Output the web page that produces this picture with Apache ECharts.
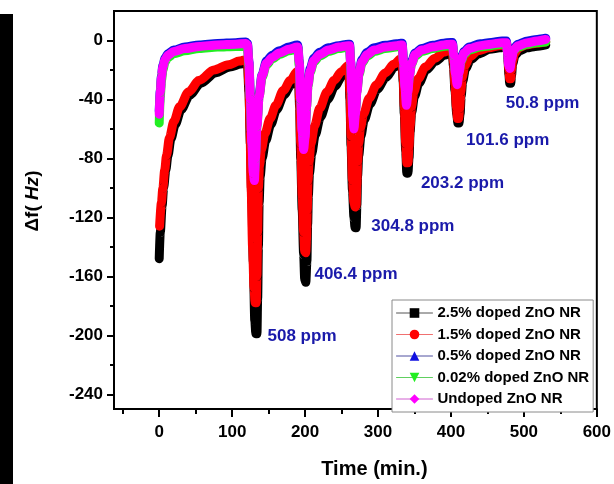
<!DOCTYPE html>
<html><head><meta charset="utf-8">
<script src="https://cdn.jsdelivr.net/npm/echarts@6/dist/echarts.min.js"></script>
<style>html,body{margin:0;padding:0;background:#fff}#c{width:614px;height:484px}</style>
</head><body><div id="c"></div>
<script>
// ---------- data (time in min, Δf in Hz) ----------
const seriesNames = ['2.5% doped ZnO NR','1.5% doped ZnO NR','0.5% doped ZnO NR','0.02% doped ZnO NR','Undoped ZnO NR'];

const black25 = [
 [0,-148],[1.5,-130],[4,-112],[6,-100],[9,-88],[12,-78],[16,-67],[22,-57],[30,-47],[42,-37],[57,-29],[77,-22],[97,-18],[112,-16],[120,-15],
 [121,-15],[123,-35],[125,-70],[127,-110],[129,-150],[131,-190],[132.5,-199],[134,-199],[135,-175],[136,-140],[137,-110],[138.5,-92],[141,-80],[146,-68],[153,-57],[161,-47],[171,-37],[181,-30],[189,-24],
 [191,-24],[192.5,-45],[194,-80],[196,-115],[198,-145],[199.5,-162],[201,-164],[202.5,-150],[203.5,-125],[204.5,-105],[206,-90],[209,-77],[214,-64],[221,-52],[231,-40],[241,-31],[251,-24],[259,-20],
 [260,-19],[261.5,-40],[263,-72],[265,-102],[267,-120],[268.5,-127],[270,-127],[271,-112],[272,-92],[273.5,-78],[276.5,-65],[281,-54],[289,-43],[299,-33],[311,-25],[323,-18],[332,-14],
 [333,-14],[334.5,-28],[336,-50],[338,-75],[339.5,-90],[341,-90],[342.5,-80],[344,-62],[346,-49],[350,-38],[356,-29],[366,-20],[379,-14],[391,-10],[401,-8],
 [402,-8],[403.5,-18],[405.5,-34],[408,-50],[409.5,-56],[411,-56],[412.5,-50],[414,-38],[416,-28],[420,-19],[427,-13],[438,-9],[453,-6],[467,-5],[476,-4],
 [477,-4],[478,-12],[479.5,-23],[480.5,-29],[482,-29],[483,-24],[484.5,-16],[488,-10],[494,-7],[504,-5],[516,-4],[530,-3]
];
const red15 = [
 [0.5,-126],[3,-110],[5,-100],[7.5,-88],[10,-78],[14,-66],[20,-55],[28,-45],[40,-35],[55,-27],[75,-20],[95,-16.5],[110,-14],[119,-13],
 [121,-13],[123,-30],[124.5,-60],[126,-100],[128,-140],[130,-168],[131.5,-178],[133,-178],[134,-160],[135,-130],[136,-100],[137.5,-85],[140,-74],[145,-63],[152,-53],[160,-44],[170,-34],[180,-27],[189,-21],
 [191,-22],[192.5,-40],[194,-70],[196,-105],[198,-130],[199.5,-143],[201,-144],[202,-135],[203,-115],[204,-95],[205.5,-82],[208,-70],[213,-58],[220,-46],[230,-35],[240,-27],[250,-21],[259,-17],
 [260,-17],[261.5,-35],[263,-65],[265,-95],[267,-110],[268.5,-113],[270,-112],[271,-98],[272,-82],[273.5,-70],[276,-59],[280,-50],[288,-39],[298,-30],[310,-22],[322,-16],[332,-12],
 [333,-12],[334.5,-25],[336,-45],[338,-70],[339.5,-83],[341,-83],[342.5,-72],[344,-58],[346,-45],[349,-35],[355,-26],[365,-18],[378,-12],[390,-8],[401,-6],
 [402,-6],[403.5,-15],[405.5,-30],[407.5,-45],[409,-53],[410.5,-53],[412,-46],[413.5,-35],[415.5,-25],[419,-17],[426,-11],[437,-7],[452,-5],[466,-3.5],[476,-3],
 [477,-3],[478,-10],[479.5,-20],[480.5,-26],[482,-26],[483,-20],[484.5,-14],[487,-9],[493,-5],[503,-3],[515,-2],[530,-1]
];
const blue05 = [
 [0,-48],[1.5,-34],[3,-24],[5,-17],[8,-12],[12,-9],[20,-6.5],[35,-4.5],[55,-3],[80,-2],[105,-1.5],[119,-1],
 [121,-2],[123,-14],[125,-38],[127,-66],[129,-86],[130.5,-90],[132,-76],[134,-55],[137,-36],[141,-23],[147,-14],[155,-10],[165,-7],[178,-4.5],[189,-3],
 [190,-3],[192,-14],[194,-38],[196,-58],[198,-70],[200,-62],[202,-42],[204,-28],[207,-19],[212,-12],[220,-8],[232,-5],[246,-3.5],[259,-2.5],
 [261,-2.5],[262.5,-14],[264,-32],[265.5,-48],[267,-56],[269,-47],[271,-32],[274,-21],[278,-13],[285,-8],[295,-5],[310,-3.3],[325,-2.3],[331,-1.8],
 [333,-1.8],[335,-13],[337,-29],[339,-40],[341,-32],[343,-22],[346,-14],[351,-8.5],[360,-5.5],[375,-3.3],[390,-1.8],[400,-1.3],
 [402,-1.3],[404,-9],[406,-20],[408.5,-27],[411,-20],[414,-12],[418,-7.5],[425,-4.5],[440,-2.3],[455,-1.3],[470,-0.3],[476,-0.3],
 [477.5,-7],[479,-15],[481,-17],[483,-11],[486,-5.5],[492,-2.5],[505,-0.3],[518,0.7],[530,1.5]
];
const green002 = [
 [0,-56],[1.5,-38],[3,-27.5],[5,-20],[8,-14.5],[12,-11.5],[20,-9],[35,-7],[55,-5.5],[80,-4.5],[105,-4],[119,-4],
 [121,-5],[123,-17],[125,-40],[127,-68],[129,-86],[130.5,-90],[132,-78],[134,-58],[137,-38],[141,-25],[147,-16.5],[155,-12.5],[165,-9.5],[178,-7],[189,-5.5],
 [190,-5.5],[192,-17],[194,-40],[196,-60],[198,-70],[200,-63],[202,-45],[204,-31],[207,-21.5],[212,-14.5],[220,-10.5],[232,-7.5],[246,-5.5],[259,-4.5],
 [261,-4.5],[262.5,-16],[264,-35],[265.5,-50],[267,-56],[269,-48],[271,-35],[274,-23],[278,-15.5],[285,-10.5],[295,-7.5],[310,-5.5],[325,-4.5],[331,-4],
 [333,-4],[335,-15],[337,-30],[339,-41],[341,-33],[343,-24],[346,-16],[351,-10.5],[360,-7.5],[375,-5.5],[390,-4],[400,-3.5],
 [402,-3.5],[404,-11],[406,-21],[408.5,-27],[411,-21],[414,-14],[418,-9.5],[425,-6.5],[440,-4.5],[455,-3.5],[470,-2.5],[476,-2.5],
 [477.5,-8],[479,-15],[481,-17],[483,-11],[486,-7],[492,-4.5],[505,-2.5],[518,-1.5],[530,-1]
];
const undoped = [
 [0,-50],[1.5,-35],[3,-25],[5,-18],[8,-13],[12,-10],[20,-7.5],[35,-5.5],[55,-4],[80,-3],[105,-2.5],[119,-2],
 [121,-3],[123,-15],[125,-40],[127,-70],[129,-90],[130.5,-95],[132,-80],[134,-58],[137,-38],[141,-24],[147,-15.5],[155,-11.5],[165,-8.5],[178,-6],[189,-4.5],
 [190,-4.5],[192,-15],[194,-40],[196,-62],[198,-74],[200,-66],[202,-45],[204,-30],[207,-20.5],[212,-13.5],[220,-9.5],[232,-6.5],[246,-4.5],[259,-3.5],
 [261,-3.5],[262.5,-15],[264,-35],[265.5,-52],[267,-60],[269,-50],[271,-35],[274,-22],[278,-14.5],[285,-9.5],[295,-6.5],[310,-4.5],[325,-3.5],[331,-3],
 [333,-3],[335,-15],[337,-32],[339,-44],[341,-35],[343,-24],[346,-15.5],[351,-9.5],[360,-6.5],[375,-4.5],[390,-3],[400,-2.5],
 [402,-2.5],[404,-10],[406,-22],[408.5,-30],[411,-22],[414,-13.5],[418,-8.5],[425,-5.5],[440,-3.5],[455,-2.5],[470,-1.5],[476,-1.5],
 [477.5,-8],[479,-17],[481,-19],[483,-12.5],[486,-6.5],[492,-3.5],[505,-1.5],[518,-0.3],[530,0.7]
];

const annText = ['508 ppm','406.4 ppm','304.8 ppm','203.2 ppm','101.6 ppm','50.8 ppm'];
const annTime = [148.5, 212.8, 290.8, 358.8, 420.8, 475.1];
const annValue = [-200.7, -158.6, -126.3, -96.7, -67.8, -42.8];

const xMajorTicks = [0,100,200,300,400,500,600];
const xMinorTicks = [-50,50,150,250,350,450,550];
const yMajorTicks = [0,-40,-80,-120,-160,-200,-240];
const yMinorTicks = [-20,-60,-100,-140,-180,-220];

// ---------- styling ----------
const colors = ['#000000','#ff0000','#1010e0','#22ee22','#ff00ff'];
const legendLine = ['#555555','#f07070','#5050a0','#60d060','#d060d0'];
const symbols = ['rect','circle','triangle','triangle','diamond'];
const rotates = [0,0,0,180,0];
const FONT = 'Liberation Sans, Arial, Helvetica, sans-serif';
const allData = [black25, red15, blue05, green002, undoped];

const chart = echarts.init(document.getElementById('c'), null, {renderer:'canvas'});

const lineSeries = allData.map((d,i)=>({
  type:'line', name: seriesNames[i], data: d,
  symbol: symbols[i], symbolRotate: rotates[i], showSymbol:false,
  smooth: 0.3, smoothMonotone:'x',
  lineStyle:{color: colors[i], width: 9, cap:'round', join:'round'},
  itemStyle:{color: colors[i]},
  z: 2 + i, animation:false, silent:true
}));

const annSeries = {
  type:'scatter', name:'annotations', symbolSize:0, z:20, animation:false, silent:true,
  itemStyle:{opacity:1},
  data: annText.map((t,i)=>({value:[annTime[i], annValue[i]], name:t})),
  label:{show:true, position:'right', distance:0, formatter:p=>p.name, opacity:1,
    color:'#1a1aaa', fontFamily:FONT, fontWeight:'bold', fontSize:17, align:'left', verticalAlign:'middle'}
};

chart.setOption({
  animation:false,
  backgroundColor:'#ffffff',
  grid:{left:114, right:16, top:11, bottom:63, show:true, borderColor:'#000', borderWidth:2, backgroundColor:'#fff'},
  xAxis:[{
    type:'value', min:-62, max:600, position:'bottom',
    name:'Time (min.)', nameLocation:'middle', nameGap:50,
    nameTextStyle:{fontFamily:FONT, fontWeight:'bold', fontSize:20, color:'#000', padding:[0,0,0,38]},
    axisLine:{show:true, onZero:false, lineStyle:{color:'#000', width:2}},
    axisTick:{show:true, inside:false, length:8, lineStyle:{color:'#000', width:2}, customValues:xMajorTicks},
    axisLabel:{show:true, margin:15, fontFamily:FONT, fontWeight:'bold', fontSize:17, color:'#000', customValues:xMajorTicks, showMinLabel:true, showMaxLabel:true},
    splitLine:{show:false}
  },{
    type:'value', min:-62, max:600, position:'bottom', offset:0,
    axisLine:{show:false, onZero:false}, axisLabel:{show:false}, splitLine:{show:false},
    axisTick:{show:true, inside:false, length:5, lineStyle:{color:'#000', width:2}, customValues:xMinorTicks}
  }],
  yAxis:[{
    type:'value', min:-250, max:20, position:'left',
    name:'Δf( {i|Hz})', nameLocation:'middle', nameGap:72, nameRotate:90,
    nameTextStyle:{fontFamily:FONT, fontWeight:'bold', fontSize:19, color:'#000', padding:[0,0,0,18],
      rich:{i:{fontFamily:FONT, fontWeight:'bold', fontStyle:'italic', fontSize:19, color:'#000'}}},
    axisLine:{show:true, onZero:false, lineStyle:{color:'#000', width:2}},
    axisTick:{show:true, inside:false, length:7, lineStyle:{color:'#000', width:2}, customValues:yMajorTicks},
    axisLabel:{show:true, margin:11, fontFamily:FONT, fontWeight:'bold', fontSize:17, color:'#000', customValues:yMajorTicks},
    splitLine:{show:false}
  },{
    type:'value', min:-250, max:20, position:'left', offset:0,
    axisLine:{show:false, onZero:false}, axisLabel:{show:false}, splitLine:{show:false},
    axisTick:{show:true, inside:false, length:4, lineStyle:{color:'#000', width:2}, customValues:yMinorTicks}
  }],
  legend:{
    orient:'vertical', left:392, top:300, width:200,
    padding:[5,4,5,4], itemGap:5.5, itemWidth:36, itemHeight:12, itemSymbolRotate:'inherit',
    backgroundColor:'#fff', borderColor:'#8a8a8a', borderWidth:1, borderRadius:0,
    textStyle:{fontFamily:FONT, fontWeight:'bold', fontSize:15, color:'#000', lineHeight:16},
    data: seriesNames.map((n,i)=>({name:n, lineStyle:{color:legendLine[i], width:1}})),
    selectedMode:false
  },
  graphic:[{type:'rect', left:0, top:14, shape:{width:13, height:470}, style:{fill:'#000'}, z:100}],
  series:[...lineSeries, annSeries]
});
</script></body></html>
